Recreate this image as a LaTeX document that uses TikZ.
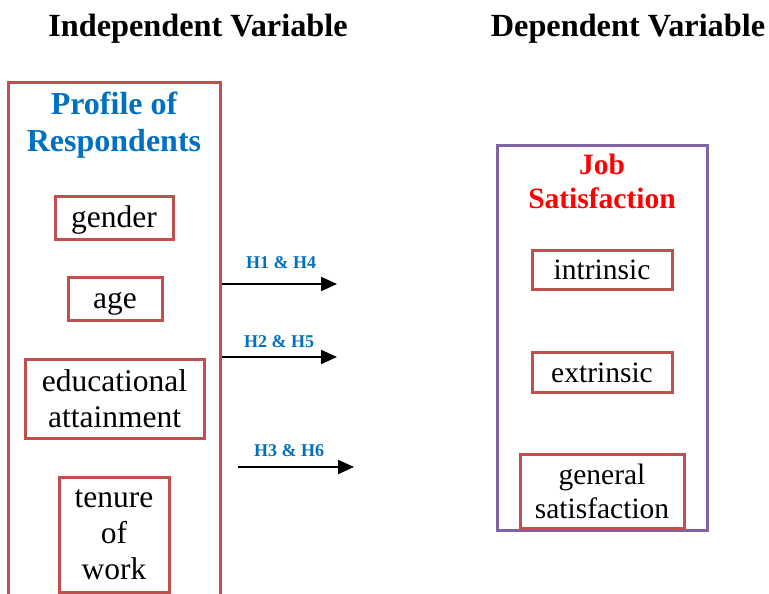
\documentclass[tikz,border=0pt]{standalone}
\usepackage{fontspec}
\setmainfont{Liberation Serif}
\usetikzlibrary{arrows.meta}
\definecolor{boxred}{RGB}{192,80,77}
\definecolor{dvpurple}{RGB}{128,100,162}
\definecolor{ivblue}{RGB}{0,112,192}
\definecolor{dvred}{RGB}{255,0,0}
\newcommand{\boxfont}{\fontsize{31.5}{36}\selectfont}
\newcommand{\dvfont}{\fontsize{29.5}{34}\selectfont}
\newcommand{\hypfont}{\fontsize{18}{20}\selectfont\bfseries}
\tikzset{
  vartitle/.style={font=\fontsize{32.3}{36}\selectfont\bfseries,inner sep=0pt,anchor=base},
  groupbox/.style={draw,line width=3pt,inner sep=0pt},
  itembox/.style={draw=boxred,line width=3pt,inner sep=0pt,align=center,font=\boxfont},
  oneline/.style={text height=23pt,text depth=3pt},
  hyplabel/.style={font=\hypfont,text=ivblue,inner sep=0pt,anchor=base},
  hyparrow/.style={black,line width=2pt,-{Triangle[length=16pt,width=14pt]}}
}
\begin{document}
\begin{tikzpicture}[x=1pt,y=-1pt]
        \useasboundingbox (0,0) rectangle (769,594);
        %TITLES
        \node[vartitle] (indep) at (198,37) {Independent Variable};
        \node[vartitle] (dep) at (628,37) {Dependent Variable};

        %INDEPENDENT BOX (runs off the bottom)
        \node[groupbox,draw=boxred,minimum width=212,minimum height=620] (profile) at (114,393) {};
        \node[font=\fontsize{32}{37}\selectfont\bfseries,text=ivblue,align=center,inner sep=0pt] (proftitle) at (114,125) {Profile of\\Respondents};
        \node[itembox,oneline,minimum width=118,minimum height=43] (gender) at (114,217.5) {gender};
        \node[itembox,oneline,minimum width=94,minimum height=43] (age) at (115,298.5) {age};
        \node[itembox,minimum width=179,minimum height=79] (edu) at (114.5,398.5) {educational\\attainment};
        \node[itembox,minimum width=110,minimum height=115] (tenure) at (114,534.5) {tenure\\of\\work};

        %DEPENDENT BOX
        \node[groupbox,draw=dvpurple,minimum width=210,minimum height=385] (jobsat) at (602,337.5) {};
        \node[font=\dvfont\bfseries,text=dvred,align=center,inner sep=0pt] (jobtitle) at (602,181.5) {Job\\Satisfaction};
        \node[itembox,oneline,font=\dvfont,minimum width=140,minimum height=39] (intr) at (602,269.5) {intrinsic};
        \node[itembox,oneline,font=\dvfont,minimum width=140,minimum height=40] (extr) at (602,372) {extrinsic};
        \node[itembox,font=\dvfont,minimum width=164,minimum height=74] (gensat) at (602,491) {general\\satisfaction};

        %HYPOTHESES
        \coordinate (h1e) at (337,284);
        \coordinate (h2e) at (337,357);
        \coordinate (h3s) at (238,467);
        \coordinate (h3e) at (354,467);
        \draw[hyparrow] (profile.east |- h1e) -- (h1e);
        \draw[hyparrow] (profile.east |- h2e) -- (h2e);
        \draw[hyparrow] (h3s) -- (h3e);
        \node[hyplabel] (h1) at (281,268) {H1 \& H4};
        \node[hyplabel] (h2) at (279,347) {H2 \& H5};
        \node[hyplabel] (h3) at (289,456) {H3 \& H6};
\end{tikzpicture}
\end{document}
